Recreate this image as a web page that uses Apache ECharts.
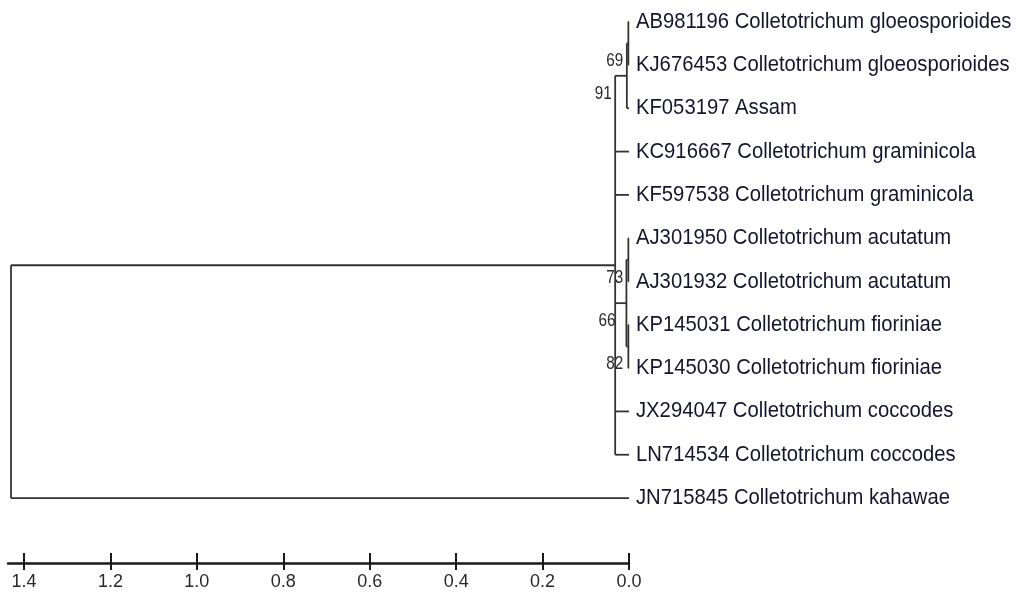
<!DOCTYPE html>
<html><head><meta charset="utf-8">
<script src="https://cdn.jsdelivr.net/npm/echarts@6/dist/echarts.min.js"></script>
<style>html,body{margin:0;padding:0;background:#fff}#c{width:1016px;height:592px}</style>
</head><body><div id="c"></div>
<script>
// ---- data ----
const leafNames = [
  'AB981196 Colletotrichum gloeosporioides',
  'KJ676453 Colletotrichum gloeosporioides',
  'KF053197 Assam',
  'KC916667 Colletotrichum graminicola',
  'KF597538 Colletotrichum graminicola',
  'AJ301950 Colletotrichum acutatum',
  'AJ301932 Colletotrichum acutatum',
  'KP145031 Colletotrichum fioriniae',
  'KP145030 Colletotrichum fioriniae',
  'JX294047 Colletotrichum coccodes',
  'LN714534 Colletotrichum coccodes',
  'JN715845 Colletotrichum kahawae'
];
const leafHeights = [0,0,0,0,0,0,0,0,0,0,0,0];
const nodeNames = ['root','main','gloeo','abkj','acut','aj','kp'];
const nodeHeights = [1.43, 0.032, 0.005, 0.0015, 0.006, 0.0015, 0.0015];
const nodeChildren = [
  ['main', 11],
  ['gloeo', 3, 4, 'acut', 9, 10],
  ['abkj', 2],
  [0, 1],
  ['aj', 'kp'],
  [5, 6],
  [7, 8]
];
const nodeSupport = [null, null, '91', '69', '66', '73', '82'];
const axisTicks = [0, 0.2, 0.4, 0.6, 0.8, 1.0, 1.2, 1.4];
const axisTickLabels = ['0.0','0.2','0.4','0.6','0.8','1.0','1.2','1.4'];

// ---- style (not data) ----
const supportGap = {gloeo: 15, acut: 11};
const FONT = "'Liberation Sans Narrow','Arial Narrow','Liberation Sans',Arial,sans-serif";

// ---- layout from data ----
const nodeIndex = {};
nodeNames.forEach((n, i) => nodeIndex[n] = i);
const nodeY = {};
function yOf(c) {
  if (typeof c === 'number') return c;
  if (nodeY[c] !== undefined) return nodeY[c];
  const ch = nodeChildren[nodeIndex[c]];
  const y = (yOf(ch[0]) + yOf(ch[ch.length - 1])) / 2;
  nodeY[c] = y;
  return y;
}
function hOf(c) { return typeof c === 'number' ? leafHeights[c] : nodeHeights[nodeIndex[c]]; }
const segments = [];
nodeNames.forEach((n, i) => {
  const ch = nodeChildren[i];
  const h = nodeHeights[i];
  segments.push([h, yOf(ch[0]), h, yOf(ch[ch.length - 1])]);
  ch.forEach(c => segments.push([h, yOf(c), hOf(c), yOf(c)]));
});
const leafData = leafNames.map((n, i) => [leafHeights[i], i, n]);
const supportData = [];
nodeNames.forEach((n, i) => {
  if (nodeSupport[i]) supportData.push([nodeHeights[i], yOf(n), nodeSupport[i], supportGap[n] || 5]);
});

function textItem(dx, dy, align, size, sx, color) {
  return (params, api) => {
    const p = api.coord([api.value(0), api.value(1)]);
    const gap = typeof dx === 'function' ? dx(api) : dx;
    return {
      type: 'text', x: p[0] + gap, y: p[1] + dy, scaleX: sx, scaleY: 1,
      style: {text: String(api.value(2)), fontFamily: FONT, fontSize: size,
        fill: color, align: align, verticalAlign: 'middle'}
    };
  };
}

const chart = echarts.init(document.getElementById('c'), null, {renderer: 'canvas'});
chart.setOption({
  animation: false,
  backgroundColor: '#fff',
  grid: {left: 8, right: 387, top: 0, bottom: 29, containLabel: false},
  xAxis: [{
    type: 'value', inverse: true, min: 0, max: 1.437, position: 'bottom',
    splitLine: {show: false},
    axisLine: {show: true, onZero: false, lineStyle: {color: '#1a1a1a', width: 2.5}},
    axisTick: {show: true, customValues: axisTicks, length: 7, inside: false, lineStyle: {color: '#1a1a1a', width: 2}},
    axisLabel: {show: true, customValues: axisTicks, margin: 10,
      formatter: v => axisTickLabels[axisTicks.findIndex(t => Math.abs(t - v) < 1e-9)] || '',
      fontFamily: FONT, fontSize: 18, color: '#2a2a2a'}
  }, {
    type: 'value', inverse: true, min: 0, max: 1.437, position: 'bottom', offset: 0,
    splitLine: {show: false},
    axisLine: {show: false, onZero: false},
    axisTick: {show: true, customValues: axisTicks, length: 10, inside: true, lineStyle: {color: '#1a1a1a', width: 2}},
    axisLabel: {show: false}
  }],
  yAxis: {type: 'value', inverse: true, min: -0.5, max: 12.5, show: false},
  series: [{
    type: 'custom',
    xAxisIndex: 0,
    data: segments,
    encode: {x: [0, 2], y: [1, 3]},
    clip: false,
    renderItem: (params, api) => {
      const p1 = api.coord([api.value(0), api.value(1)]);
      const p2 = api.coord([api.value(2), api.value(3)]);
      return {type: 'line', shape: {x1: p1[0], y1: p1[1], x2: p2[0], y2: p2[1]},
        style: {stroke: '#333', lineWidth: 1.8}};
    }
  }, {
    type: 'custom', xAxisIndex: 0, data: leafData, clip: false,
    encode: {x: 0, y: 1},
    renderItem: textItem(7, 0, 'left', 22, 0.92, '#15152e')
  }, {
    type: 'custom', xAxisIndex: 0, data: supportData, clip: false,
    encode: {x: 0, y: 1},
    renderItem: textItem(api => -api.value(3), 18, 'right', 18, 0.85, '#2a2a2a')
  }]
});
</script></body></html>
